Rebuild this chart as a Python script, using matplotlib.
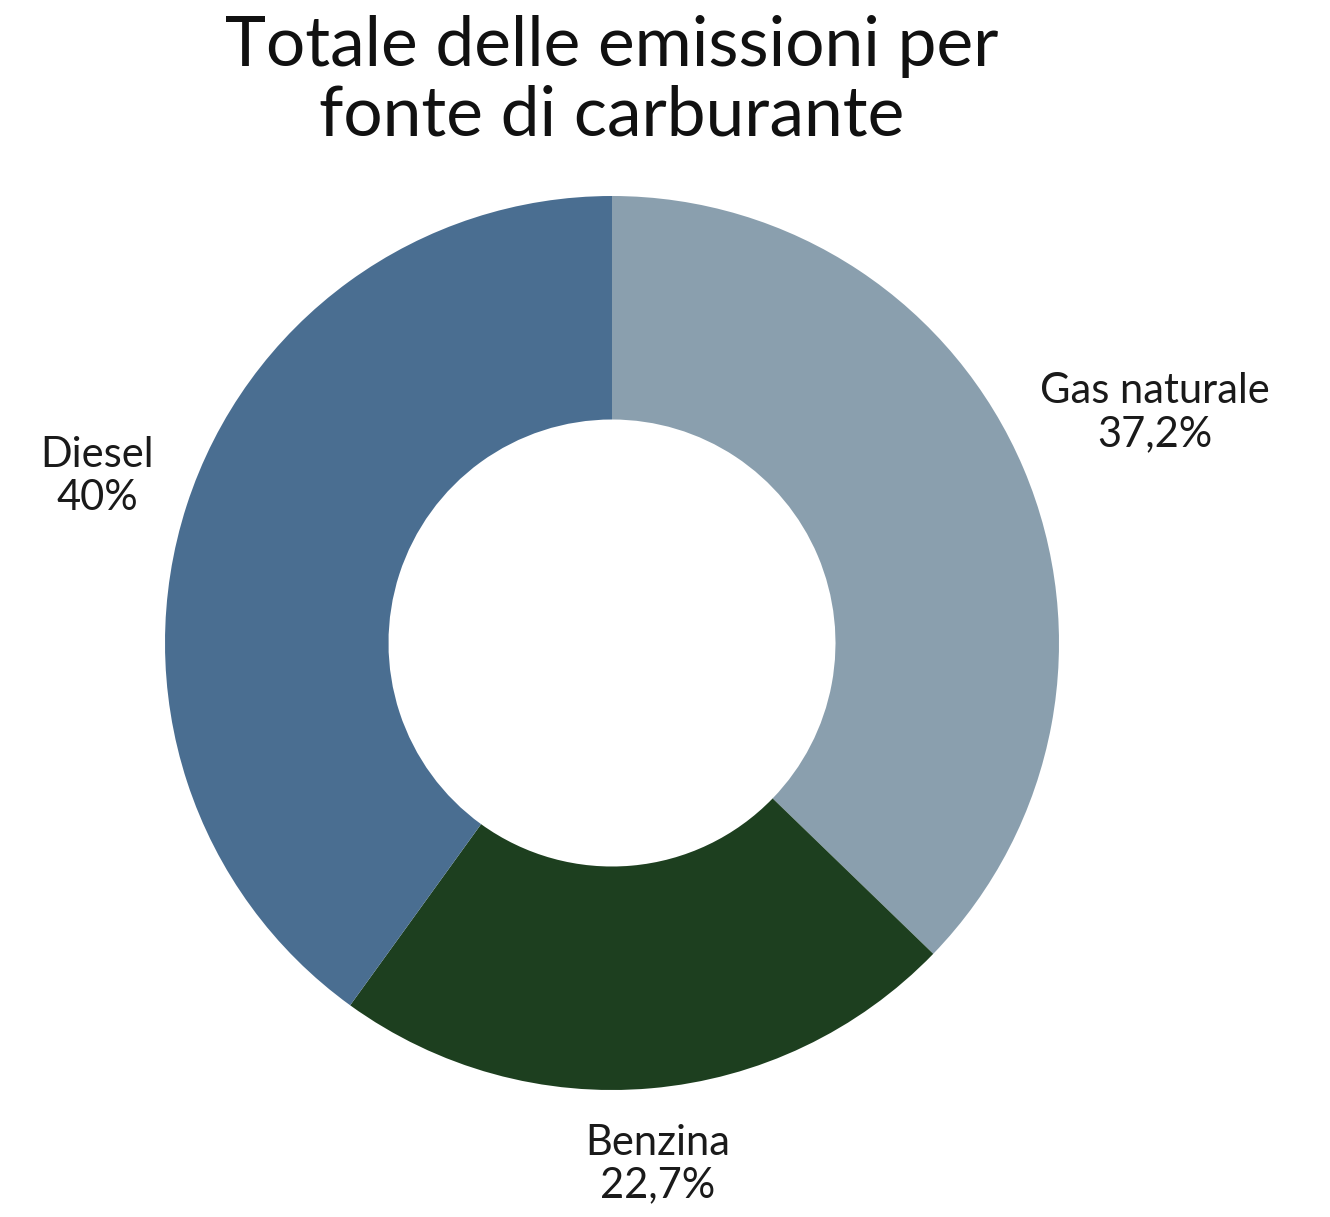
import numpy as np
import matplotlib
matplotlib.use("Agg")
import matplotlib.pyplot as plt

plt.rcParams['font.family'] = ['Lato', 'DejaVu Sans']

# dati
categorie = ['Gas naturale', 'Benzina', 'Diesel']
valori = [37.2, 22.7, 40.0]
etichette = ['37,2%', '22,7%', '40%']
colori = ['#8a9fae', '#1d3f1f', '#4a6e91']
distanze = [1.32, 1.17, 1.21]

fig = plt.figure(figsize=(13.3, 12.17), dpi=100)

# asse del grafico: centro (612, 643) px, raggio 447 px
W, H = 1330, 1217
cx, cy, r = 612, 643, 447
ax = fig.add_axes([(cx - r) / W, (H - cy - r) / H, 2 * r / W, 2 * r / H])

wedges, _ = ax.pie(valori, colors=colori, startangle=90, counterclock=False,
                   radius=1, wedgeprops=dict(width=0.5, edgecolor='none'))
ax.set_xlim(-1, 1)
ax.set_ylim(-1, 1)
ax.set_aspect('equal')

for w, nome, pct, d in zip(wedges, categorie, etichette, distanze):
    ang = np.deg2rad((w.theta1 + w.theta2) / 2)
    ax.text(d * np.cos(ang), d * np.sin(ang), nome + '\n' + pct,
            ha='center', va='center', fontsize=30, color='#1a1a1a',
            linespacing=1.15, clip_on=False)

fig.text(cx / W, 1 - 15 / H, 'Totale delle emissioni per\nfonte di carburante',
         ha='center', va='top', fontsize=50, color='#111111',
         linespacing=1.12)

fig.savefig('out.png', dpi=100)
